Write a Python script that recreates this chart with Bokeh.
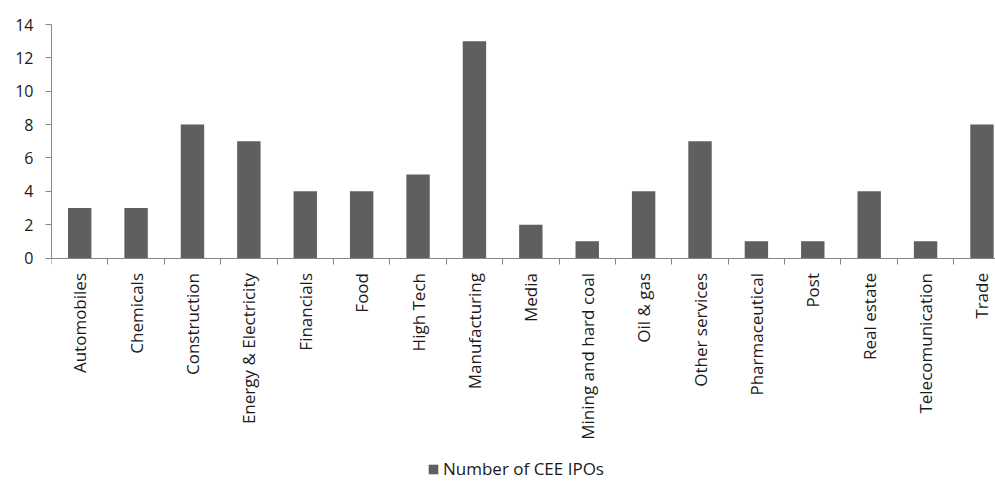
from math import pi
from bokeh.plotting import figure
from bokeh.models import ColumnDataSource, Range1d, FixedTicker, Legend, LegendItem
from bokeh.embed import file_html
from bokeh.resources import INLINE

categories = ["Automobiles", "Chemicals", "Construction", "Energy & Electricity",
              "Financials", "Food", "High Tech", "Manufacturing", "Media",
              "Mining and hard coal", "Oil & gas", "Other services",
              "Pharmaceutical", "Post", "Real estate", "Telecomunication", "Trade"]
ipos = [3, 3, 8, 7, 4, 4, 5, 13, 2, 1, 4, 7, 1, 1, 4, 1, 8]
y_ticks = [0, 2, 4, 6, 8, 10, 12, 14]
series_name = "Number of CEE IPOs"

FONT = "Open Sans"
TEXT = "#1a1a1a"
AXIS = "#868686"
BAR = "#5f5f5f"

xs = [i + 0.5 for i in range(len(categories))]
src = ColumnDataSource(dict(x=xs, top=ipos, cat=categories))

# frame spans the whole height below the top border; value 0 sits at ~257.5 px
p = figure(width=995, height=481, x_range=Range1d(0, 16.74), y_range=Range1d(-13.40, 14),
           output_backend="svg", toolbar_location=None,
           min_border_left=51, min_border_right=0, min_border_top=24, min_border_bottom=0)
p.outline_line_color = None
p.xgrid.visible = False
p.ygrid.visible = False
p.background_fill_color = "white"
p.border_fill_color = "white"

r = p.vbar(x="x", top="top", width=0.415, source=src, fill_color=BAR, line_color=None)

xa = p.xaxis[0]
xa.fixed_location = 0
xa.ticker = FixedTicker(ticks=xs, minor_ticks=list(range(len(categories) + 1)))
xa.major_label_overrides = {x: c for x, c in zip(xs, categories)}
xa.major_label_orientation = pi / 2
xa.major_tick_line_color = None
xa.major_tick_out = 0
xa.major_tick_in = 0
xa.minor_tick_line_color = AXIS
xa.minor_tick_out = 6
xa.minor_tick_in = 0
xa.axis_line_color = AXIS
xa.major_label_standoff = 9
xa.major_label_text_font = FONT
xa.major_label_text_font_size = "17px"
xa.major_label_text_color = TEXT

ya = p.yaxis[0]
ya.ticker = FixedTicker(ticks=y_ticks)
ya.bounds = (0, 14)
ya.minor_tick_line_color = None
ya.major_tick_line_color = AXIS
ya.major_tick_out = 6
ya.major_tick_in = 0
ya.axis_line_color = AXIS
ya.major_label_standoff = 12
ya.major_label_text_font = FONT
ya.major_label_text_font_size = "16px"
ya.major_label_text_color = TEXT

legend = Legend(items=[LegendItem(label=series_name, renderers=[r])],
                location=(376, 1), orientation="horizontal",
                border_line_color=None, background_fill_alpha=0,
                label_text_font=FONT, label_text_font_size="17px", label_text_color=TEXT,
                glyph_width=12, glyph_height=12, label_standoff=4,
                padding=0, margin=0)
p.add_layout(legend, "center")

open("out.html", "w").write(file_html(p, INLINE))
